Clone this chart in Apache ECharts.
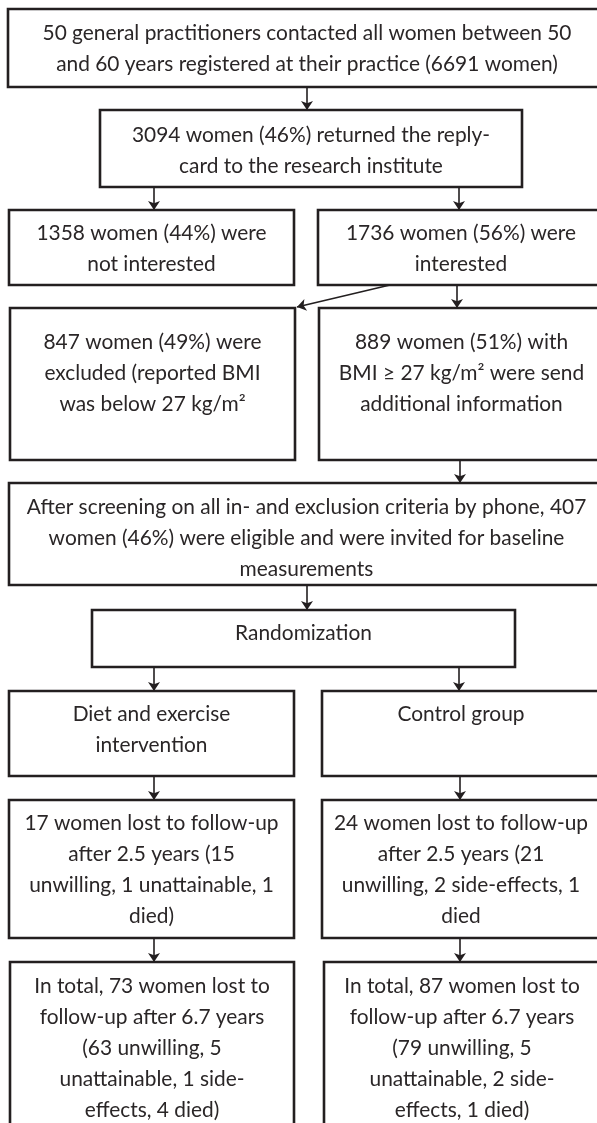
<!DOCTYPE html>
<html>
<head>
<meta charset="utf-8">
<script src="https://cdn.jsdelivr.net/npm/echarts@6/dist/echarts.min.js"></script>
<style>
  html, body { margin: 0; padding: 0; background: #fff; }
  #chart { width: 597px; height: 1123px; }
</style>
</head>
<body>
<div id="chart"></div>
<script>
// flowchart texts, one entry per box
const boxTexts = [
  '50 general practitioners contacted all women between 50\nand 60 years registered at their practice (6691 women)',
  '3094 women (46%) returned the reply-\ncard to the research institute',
  '1358 women (44%) were\nnot interested',
  '1736 women (56%) were\ninterested',
  '847 women (49%) were\nexcluded (reported BMI\nwas below 27 kg/m²',
  '889 women (51%) with\nBMI ≥ 27 kg/m² were send\nadditional information',
  'After screening on all in- and exclusion criteria by phone, 407\nwomen (46%) were eligible and were invited for baseline\nmeasurements',
  'Randomization',
  'Diet and exercise\nintervention',
  'Control group',
  '17 women lost to follow-up\nafter 2.5 years (15\nunwilling, 1 unattainable, 1\ndied)',
  '24 women lost to follow-up\nafter 2.5 years (21\nunwilling, 2 side-effects, 1\ndied',
  'In total, 73 women lost to\nfollow-up after 6.7 years\n(63 unwilling, 5\nunattainable, 1 side-\neffects, 4 died)',
  'In total, 87 women lost to\nfollow-up after 6.7 years\n(79 unwilling, 5\nunattainable, 2 side-\neffects, 1 died)'
]

// layout: [x0, y0, x1, y1, first text line centre]
const boxRects = [
  [8, 9, 606, 87, 33],
  [100, 110, 522, 187, 135],
  [9, 210, 294, 285, 233],
  [318, 210, 604, 285, 233],
  [10, 308, 295, 460, 342],
  [319, 308, 604, 460, 342],
  [9, 483, 604, 585, 507],
  [92, 610, 515, 667, 633],
  [9, 691, 294, 776, 714],
  [322, 691, 600, 776, 714],
  [9, 800, 294, 938, 823],
  [322, 800, 600, 938, 823],
  [10, 962, 294, 1140, 986],
  [324, 962, 600, 1140, 986]
]

// connectors: [from x, from y, to x, to y]
const arrows = [
  [307, 87, 307, 110],
  [154, 187, 154, 210],
  [459, 187, 459, 210],
  [390, 285, 297, 307],
  [457, 285, 457, 308],
  [460, 460, 460, 483],
  [307, 585, 307, 610],
  [154, 667, 154, 691],
  [459, 667, 459, 691],
  [154, 776, 154, 800],
  [460, 776, 460, 800],
  [154, 938, 154, 962],
  [460, 938, 460, 962]
]

const lineH = 31
const chart = echarts.init(document.getElementById('chart'))

const option = {
  animation: false,
  grid: { left: 0, right: 0, top: 0, bottom: 0 },
  xAxis: { type: 'value', min: 0, max: 597, show: false },
  yAxis: { type: 'value', min: 0, max: 1123, inverse: true, show: false },
  series: [
    {
      type: 'custom',
      coordinateSystem: 'cartesian2d',
      data: boxTexts.map(function(t, i) { return [i] }),
      renderItem: function(params, api) {
        const i = api.value(0)
        const r = boxRects[i]
        const p0 = api.coord([r[0], r[1]])
        const p1 = api.coord([r[2], r[3]])
        const tc = api.coord([(r[0] + r[2]) / 2, r[4]])
        return {
          type: 'group',
          children: [
            {
              type: 'rect',
              shape: { x: p0[0], y: p0[1], width: p1[0] - p0[0], height: p1[1] - p0[1] },
              style: { fill: '#fff', stroke: '#231f20', lineWidth: 2.6 }
            },
            {
              type: 'text',
              style: {
                text: boxTexts[i],
                x: tc[0],
                y: tc[1] - lineH / 2,
                align: 'center',
                verticalAlign: 'top',
                fontFamily: 'Lato',
                fontSize: 20.9,
                lineHeight: lineH,
                fill: '#2a2627'
              }
            }
          ]
        }
      }
    },
    {
      type: 'lines',
      coordinateSystem: 'cartesian2d',
      symbol: ['none', 'arrow'],
      symbolSize: 9,
      lineStyle: { color: '#231f20', width: 1.6, opacity: 1 },
      data: arrows.map(function(a) {
        return { coords: [[a[0], a[1]], [a[2], a[3]]] }
      })
    }
  ]
}
chart.setOption(option)
</script>
</body>
</html>
